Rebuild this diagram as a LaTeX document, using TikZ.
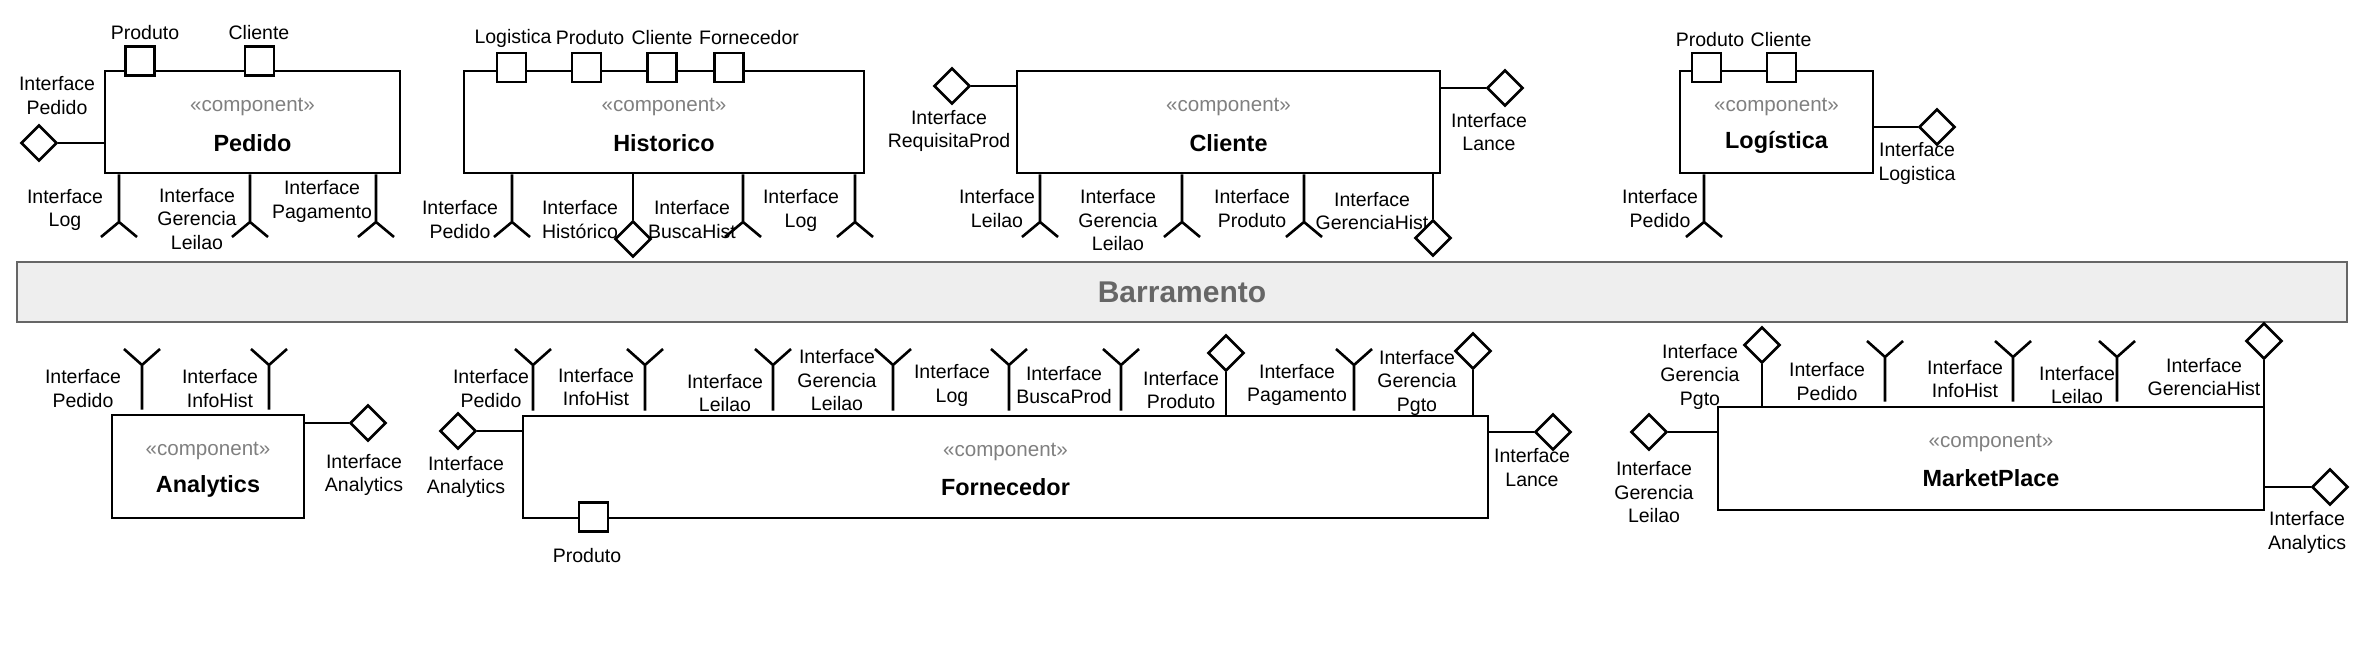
\documentclass[tikz,border=0pt]{standalone}
\usepackage{fontspec}
\setmainfont{Liberation Sans}
\usetikzlibrary{shapes.geometric}
\definecolor{stereogray}{HTML}{808080}
\definecolor{busfill}{HTML}{EEEEEE}
\definecolor{busline}{HTML}{666666}
\newcommand{\mySockDown}[4]{% name, x, box, vertex y
  \coordinate (#1) at (#2,#4);
  \draw[iface] (#1 |- #3.south) -- (#1) -- ++(-18,15) (#1) -- ++(18,15);}
\newcommand{\mySockUp}[4]{% name, x, box, vertex y
  \coordinate (#1) at (#2,#4);
  \draw[iface] (#1 |- #3.north) ++(0,-4) -- (#1) -- ++(-18,-16) (#1) -- ++(18,-16);}
\newcommand{\myLolDown}[4]{% name, x, box, center y
  \node[dia] (#1) at (#2,#4) {};
  \draw[iface] (#1 |- #3.south) -- (#1.north);}
\newcommand{\myLolUp}[4]{% name, x, box, center y
  \node[dia] (#1) at (#2,#4) {};
  \draw[iface] (#1.south) -- (#1 |- #3.north);}
\newcommand{\myLolLeft}[4]{% name, x, y, box
  \node[dia] (#1) at (#2,#3) {};
  \draw[iface] (#1.east) -- (#1 -| #4.west);}
\newcommand{\myLolRight}[4]{% name, x, y, box
  \node[dia] (#1) at (#2,#3) {};
  \draw[iface] (#4.east |- #1) -- (#1.west);}
\newcommand{\myComp}[5]{% name, cx, cy, width pt, height pt
  \node[comp, minimum width=#4, minimum height=#5] (#1) at (#2,#3) {};
  \node[stereo] (#1S) at ([yshift=-18.5pt]#1.north) {«component»};}
\begin{document}
\begin{tikzpicture}[x=0.5pt,y=-0.5pt,
  comp/.style={draw, rectangle, line width=1.3pt, fill=white, inner sep=0},
  iface/.style={draw, line width=1.3pt},
  dia/.style={draw, diamond, line width=1.3pt, fill=white, inner sep=0,
    minimum width=18pt, minimum height=18pt},
  port/.style={draw, rectangle, line width=1.3pt, fill=white, inner sep=0,
    minimum size=14.5pt},
  lbl/.style={inner sep=0, align=center, font=\fontsize{9.75}{11.75}\selectfont},
  stereo/.style={inner sep=0, text=stereogray, font=\fontsize{10.3}{12}\selectfont},
  ctitle/.style={inner sep=0, font=\fontsize{11.7}{14}\selectfont\bfseries},
  bus/.style={draw=busline, fill=busfill, line width=0.8pt, rectangle, inner sep=0,
    text=busline, font=\fontsize{15}{18}\selectfont\bfseries}
]
\useasboundingbox[fill=white] (0,0) rectangle (2364,656);

% ---------------- Barramento ----------------
\node[bus, minimum width=1165pt, minimum height=30pt] (bar) at (1182,292) {Barramento};

% ---------------- Pedido ----------------
\myComp{pedido}{252.5}{122}{147.5pt}{51pt}
\node[ctitle] (pedidoT) at ([yshift=-36.5pt]pedido.north) {Pedido};
\myLolLeft{pedIP}{39}{143}{pedido}
\node[lbl] (pedL0) at (57,95.5) {Interface\\Pedido};
\mySockDown{pedS1}{119}{pedido}{222}
\mySockDown{pedS2}{250}{pedido}{222}
\mySockDown{pedS3}{376}{pedido}{222}
\node[lbl] (pedL1) at (65,210) {Interface\\Log};
\node[lbl] (pedL2) at (197,219) {Interface\\Gerencia\\Leilao};
\node[lbl] (pedL3) at (322,201.5) {Interface\\Pagamento};
\node[port] (pedP1) at (140,61) {};
\node[port] (pedP2) at (259.5,61) {};
\node[lbl] (pedPL1) at (145,33) {Produto};
\node[lbl] (pedPL2) at (259,33) {Cliente};

% ---------------- Historico ----------------
\myComp{hist}{664}{122}{200pt}{51pt}
\node[ctitle] (histT) at ([yshift=-36.5pt]hist.north) {Historico};
\node[port] (histP1) at (511.5,67.5) {};
\node[port] (histP2) at (586.5,67.5) {};
\node[port] (histP3) at (662,67.5) {};
\node[port] (histP4) at (729,67.5) {};
\node[lbl] (histPL1) at (513,38) {Logistica};
\node[lbl] (histPL2) at (590,38) {Produto};
\node[lbl] (histPL3) at (662,38) {Cliente};
\node[lbl] (histPL4) at (749,38) {Fornecedor};
\mySockDown{histS1}{512}{hist}{222}
\mySockDown{histS3}{743}{hist}{222}
\mySockDown{histS4}{855}{hist}{222}
\node[lbl] (histL1) at (460,219.5) {Interface\\Pedido};
\node[lbl] (histL2) at (580,219.5) {Interface\\Histórico};
\node[lbl] (histL3) at (692,219.5) {Interface\\BuscaHist};
\node[lbl] (histL4) at (801,210.5) {Interface\\Log};
\myLolDown{histD}{633}{hist}{239}

% ---------------- Cliente ----------------
\myComp{cli}{1228.5}{122}{211.5pt}{51pt}
\node[ctitle] (cliT) at ([yshift=-36.5pt]cli.north) {Cliente};
\myLolLeft{cliIR}{952}{86}{cli}
\node[lbl] (cliL0) at (949,131) {Interface\\RequisitaProd};
\myLolRight{cliIL}{1505}{88}{cli}
\node[lbl] (cliL5) at (1489,132) {Interface\\Lance};
\mySockDown{cliS1}{1040}{cli}{222}
\mySockDown{cliS2}{1182}{cli}{222}
\mySockDown{cliS3}{1304}{cli}{222}
\node[lbl] (cliL1) at (997,208.5) {Interface\\Leilao};
\node[lbl] (cliL2) at (1118,220.5) {Interface\\Gerencia\\Leilao};
\node[lbl] (cliL3) at (1252,208.5) {Interface\\Produto};
\node[lbl] (cliL4) at (1372,211) {Interface\\GerenciaHist};
\myLolDown{cliD}{1433}{cli}{238}

% ---------------- Logistica ----------------
\myComp{logi}{1776.5}{122}{96.5pt}{51pt}
\node[ctitle] (logiT) at ([yshift=-36.5pt]logi.north) {Logística};
\node[port] (logiP1) at (1706.5,67.5) {};
\node[port] (logiP2) at (1781.5,67.5) {};
\node[lbl] (logiPL1) at (1710,40) {Produto};
\node[lbl] (logiPL2) at (1781,40) {Cliente};
\myLolRight{logiIL}{1937}{127}{logi}
\node[lbl] (logiL1) at (1917,163.5) {Interface\\Logistica};
\mySockDown{logiS1}{1704}{logi}{222}
\node[lbl] (logiL2) at (1660,208.5) {Interface\\Pedido};

% ---------------- Analytics ----------------
\myComp{ana}{208}{466.5}{96pt}{51.5pt}
\node[ctitle] (anaT) at ([yshift=-36.5pt]ana.north) {Analytics};
\mySockUp{anaS1}{142}{ana}{365}
\mySockUp{anaS2}{269}{ana}{365}
\node[lbl] (anaL1) at (83,388.5) {Interface\\Pedido};
\node[lbl] (anaL2) at (220,388.5) {Interface\\InfoHist};
\myLolRight{anaIA}{368}{423}{ana}
\node[lbl] (anaL3) at (364,475) {Interface\\Analytics};

% ---------------- Fornecedor ----------------
\myComp{forn}{1005.5}{467}{482.5pt}{51pt}
\node[ctitle] (fornT) at ([yshift=-36pt]forn.north) {Fornecedor};
\mySockUp{fornS1}{533}{forn}{365}
\mySockUp{fornS2}{645}{forn}{365}
\mySockUp{fornS3}{773}{forn}{365}
\mySockUp{fornS4}{893}{forn}{365}
\mySockUp{fornS5}{1009}{forn}{365}
\mySockUp{fornS6}{1121}{forn}{365}
\mySockUp{fornS8}{1354}{forn}{365}
\myLolUp{fornD7}{1226}{forn}{353}
\myLolUp{fornD9}{1473}{forn}{351}
\node[lbl] (fornL1) at (491,388.5) {Interface\\Pedido};
\node[lbl] (fornL2) at (596,387) {Interface\\InfoHist};
\node[lbl] (fornL3) at (725,393) {Interface\\Leilao};
\node[lbl] (fornL4) at (837,380.5) {Interface\\Gerencia\\Leilao};
\node[lbl] (fornL5) at (952,385.5) {Interface\\Log};
\node[lbl] (fornL6) at (1064,385) {Interface\\BuscaProd};
\node[lbl] (fornL7) at (1181,390) {Interface\\Produto};
\node[lbl] (fornL8) at (1297,385) {Interface\\Pagamento};
\node[lbl] (fornL9) at (1417,382.5) {Interface\\Gerencia\\Pgto};
\myLolLeft{fornIA}{458}{431}{forn}
\node[lbl] (fornLA) at (466,477) {Interface\\Analytics};
\myLolRight{fornIL}{1553}{432}{forn}
\node[lbl] (fornLL) at (1532,467.5) {Interface\\Lance};
\node[port] (fornP1) at (593.5,517) {};
\node[lbl] (fornPL1) at (587,556) {Produto};

% ---------------- MarketPlace ----------------
\myComp{mkt}{1991}{458.5}{273pt}{51.5pt}
\node[ctitle] (mktT) at ([yshift=-36pt]mkt.north) {MarketPlace};
\myLolUp{mktD1}{1762}{mkt}{345}
\mySockUp{mktS2}{1885}{mkt}{357}
\mySockUp{mktS3}{2013}{mkt}{357}
\mySockUp{mktS4}{2117}{mkt}{357}
\myLolUp{mktD5}{2264}{mkt}{341}
\node[lbl] (mktL1) at (1700,376.5) {Interface\\Gerencia\\Pgto};
\node[lbl] (mktL2) at (1827,381.5) {Interface\\Pedido};
\node[lbl] (mktL3) at (1965,379) {Interface\\InfoHist};
\node[lbl] (mktL4) at (2077,385) {Interface\\Leilao};
\node[lbl] (mktL5) at (2204,377) {Interface\\GerenciaHist};
\myLolLeft{mktIG}{1649}{432}{mkt}
\node[lbl] (mktLG) at (1654,492.5) {Interface\\Gerencia\\Leilao};
\myLolRight{mktIA}{2330}{487}{mkt}
\node[lbl] (mktLA) at (2307,532.5) {Interface\\Analytics};
\end{tikzpicture}
\end{document}
